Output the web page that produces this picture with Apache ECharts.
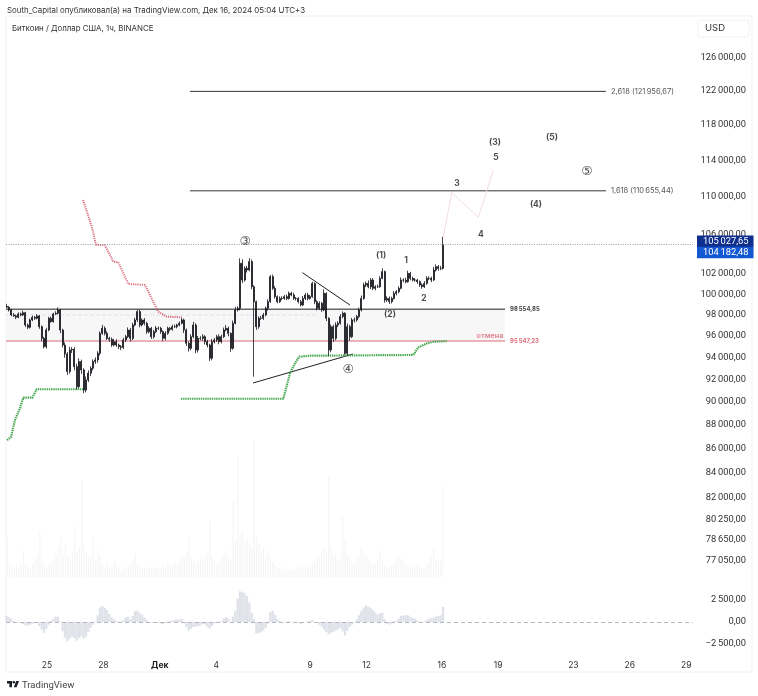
<!DOCTYPE html>
<html><head><meta charset="utf-8">
<style>html,body{margin:0;padding:0;background:#fff}#c{width:758px;height:696px}</style>
<script src="https://cdn.jsdelivr.net/npm/echarts@6/dist/echarts.min.js"></script>
</head><body><div id="c"></div>
<script>
const headerText = 'South_Capital опубликовал(а) на TradingView.com, Дек 16, 2024 05:04 UTC+3';
const symbolText = 'Биткоин / Доллар США, 1ч, BINANCE';

const priceTicks = [126000,122000,118000,114000,110000,106000,102000,100000,98000,96000,94000,92000,90000,88000,86000,84000,82000,80250,78650,77050];
const oscTicks = [2500,0,-2500];
const dateTicks = ['2024-11-25','2024-11-28','2024-12-01','2024-12-04','2024-12-09','2024-12-12','2024-12-16','2024-12-19','2024-12-23','2024-12-26','2024-12-29'];
const dateTickLabels = ['25','28','Дек','4','9','12','16','19','23','26','29'];

const candleStart = '2024-11-22T20:28:00Z';
const candleStepHours = 2.979;
const closes = [
98750,98490,98010,97920,97790,98110,98010,98230,97050,96830,
97530,97790,97690,97920,96890,95790,95020,96580,97690,97370,
98110,98170,98490,96580,95170,94340,92730,94710,94770,93180,
91370,93640,92880,91070,91970,92580,93030,93640,93790,94400,
96260,96740,96260,95790,95700,95170,95480,95170,95020,94950,
95640,95950,96580,95790,97050,97530,98330,97050,97530,97210,
96420,96740,95950,96420,96740,96740,96420,95790,96260,96740,
96640,96890,96890,97050,97210,97530,96580,95330,94860,95950,
97050,94710,95790,95790,95950,95480,95170,93950,95480,95640,
95950,95480,95950,96580,96740,96260,94860,97210,98490,98650,
103090,101410,102580,102410,103260,100750,99290,96890,97690,97690,
98010,98650,99290,101750,100590,99780,99290,99610,99610,99780,
99610,100100,99940,99610,99610,99290,98970,99610,99940,99610,
99780,101080,99290,98650,99130,98490,100100,97690,94710,96890,
95790,97050,97210,97850,98170,94400,96890,95950,97530,97530,
97850,98490,99610,100920,101080,100750,101410,100590,100750,100750,
101580,102250,99450,99610,99290,99610,100100,100260,100590,101410,
101410,101250,102080,101580,101410,101410,101250,100920,100750,101080,
101580,101580,101410,102410,102750,102580,102580,105027.65];
const wickUp = [
250,120,100,180,120,150,130,200,90,150,
130,160,110,170,90,120,140,200,140,160,
120,200,240,100,120,240,180,300,200,200,
260,300,180,150,320,260,180,200,230,200,
180,320,180,200,150,180,260,220,130,150,
200,160,240,180,220,200,150,200,150,180,
140,200,130,180,220,160,140,120,200,160,
130,180,200,120,170,210,120,140,180,230,
300,160,220,200,240,150,170,120,260,200,
170,220,190,230,300,150,100,260,300,200,
500,400,200,250,350,200,150,100,180,220,
200,160,240,160,200,220,120,190,210,160,
200,180,150,220,130,120,160,240,180,210,
170,160,100,140,200,130,390,100,100,220,
180,260,200,240,180,100,300,180,200,230,
160,220,280,220,190,300,190,200,160,220,
200,330,100,200,180,160,220,170,210,260,
180,240,260,150,170,200,130,120,160,230,
210,200,170,300,220,160,240,770];
const wickDown = [
100,150,120,100,180,90,140,110,200,170,
120,110,150,100,200,260,160,180,120,110,
90,110,120,300,220,350,300,200,280,320,
240,150,350,290,200,180,260,190,210,250,
200,130,190,150,220,170,130,200,240,260,
160,190,140,300,160,120,200,220,130,190,
210,150,210,170,130,150,200,260,180,120,
170,130,110,160,120,110,300,250,300,180,
150,300,240,180,220,260,220,250,190,170,
190,240,160,130,120,270,320,130,100,150,
200,300,150,250,120,250,7020,300,200,150,
160,130,220,120,150,200,160,130,170,140,
180,120,130,150,210,170,140,100,160,190,
130,120,240,210,160,180,120,260,550,220,
330,180,200,130,150,150,200,380,130,240,
170,160,140,130,200,150,240,170,200,120,
100,90,260,180,220,170,120,190,150,90,
220,160,110,200,130,170,220,180,200,120,
140,180,210,100,150,240,190,120];
const volumes = [
120,45,30,25,35,30,40,80,35,28,
25,40,55,60,135,50,40,30,35,45,
50,70,90,120,65,100,60,55,70,150,
75,90,290,95,70,60,55,120,50,80,
60,35,30,40,25,30,45,35,28,22,
25,30,35,40,50,70,40,30,25,28,
22,30,26,24,30,28,25,35,30,40,
35,30,45,40,50,60,55,75,120,60,
45,40,50,55,45,60,70,170,60,50,
40,45,55,65,80,60,50,230,110,360,
130,140,110,120,100,90,410,120,100,70,
85,60,80,55,45,35,30,25,22,25,
30,22,26,20,28,30,26,34,38,30,
36,42,50,55,60,75,85,70,300,90,
60,70,50,55,180,110,70,60,45,40,
55,60,90,70,60,50,45,40,42,55,
80,45,35,30,28,32,40,45,60,55,
50,40,35,30,26,28,35,30,25,28,
35,45,60,90,55,45,50,270];
const oscValues = [
680,530,380,150,0,-40,-110,-230,-380,-380,
-300,-230,-110,-80,-460,-840,-1220,-760,-300,150,
380,610,610,80,-1060,-1750,-2200,-1900,-1670,-1820,
-2130,-1820,-1670,-1900,-1670,-1140,-680,-300,80,760,
1670,1820,1600,1370,910,530,300,150,40,40,
230,530,610,300,680,1220,1290,1060,840,530,
270,0,-110,-110,-40,-110,-150,-230,-110,40,
110,190,230,270,300,340,-40,-530,-990,-760,
-570,-530,-460,-420,-230,-300,-530,-760,-460,-190,
-80,40,110,380,570,380,0,610,1220,2660,
3500,3420,3270,2960,2200,1060,300,-1290,-1290,-1140,
-990,-680,-190,1140,1290,840,380,150,0,-40,
40,110,40,-40,-110,-80,-230,-110,0,40,
80,230,-40,-110,-300,-530,-840,-1140,-1440,-1220,
-1140,-990,-840,-680,-1060,-1520,-990,-570,-300,-40,
300,760,1220,1670,1900,1750,1600,1370,1060,840,
990,1060,300,-230,-300,-150,80,150,380,680,
760,760,760,610,460,380,190,40,-40,80,
190,300,460,530,610,680,760,1710];

const fib2Dates = ['2024-12-02T14:30','2024-12-24T17:30'];
const fib2Prices = [121956.67,121956.67];
const fib1Prices = [110655.44,110655.44];
const zoneDates = ['2024-11-22T19:40','2024-12-19T08:40'];
const zoneTop = [98554.85,98554.85];
const zoneBottom = [95547.23,95547.23];
const midDates = ['2024-11-22T19:40','2024-12-09T07:00'];
const midPrices = [98000,98000];
const trendADates = ['2024-12-08T14:00','2024-12-11T02:50'];
const trendAPrices = [102150,98960];
const trendBDates = ['2024-12-05T23:00','2024-12-11T06:40'];
const trendBPrices = [91700,94340];
const projDates = ['2024-12-16T02:00','2024-12-16T12:40','2024-12-17T22:40','2024-12-18T17:40'];
const projPrices = [105800,110450,107830,112860];

const redDates = ['2024-11-26T22:00','2024-11-27T04:20','2024-11-27T10:20','2024-11-27T14:30','2024-11-28T02:00','2024-11-28T12:40','2024-11-28T19:00','2024-11-29T07:50','2024-11-30T05:00','2024-11-30T22:00','2024-12-01T08:50','2024-12-02T04:00'];
const redPrices = [109670,108070,106500,104980,104920,103240,103190,101020,100930,98320,97840,97790];
const greenADates = ['2024-11-22T21:00','2024-11-23T02:00','2024-11-23T07:10','2024-11-23T13:30','2024-11-23T17:45','2024-11-24T05:15','2024-11-24T10:50','2024-11-26T22:20'];
const greenAPrices = [86720,86990,88450,89480,90390,90390,91140,91140];
const greenBDates = ['2024-12-02T03:00','2024-12-07T13:40','2024-12-07T22:15','2024-12-08T04:35','2024-12-08T10:05','2024-12-08T23:45','2024-12-14T11:35','2024-12-14T18:00','2024-12-15T04:45','2024-12-15T13:10','2024-12-16T06:15'];
const greenBPrices = [90300,90300,92570,93480,94090,94180,94250,94950,95320,95470,95540];

const waveTexts = ['(1)','(2)','(3)','(4)','(5)','1','2','3','4','5'];
const waveDates = ['2024-12-12T18:30','2024-12-13T05:50','2024-12-18T20:00','2024-12-21T00:15','2024-12-21T20:40','2024-12-14T02:20','2024-12-15T01:15','2024-12-16T19:25','2024-12-18T02:00','2024-12-18T21:10'];
const wavePrices = [103920,98090,115960,109240,116640,103420,99650,111510,106080,114370];
const circleTexts = ['③','④','⑤'];
const circleDates = ['2024-12-05T12:50','2024-12-11T00:15','2024-12-23T17:20'];
const circlePrices = [105260,92880,112710];

const ts = s => Date.parse(s.length === 10 ? s + 'T00:00:00Z' : (s.endsWith('Z') ? s : s + ':00Z'));
const pairs = (d, p) => d.map((x, i) => [ts(x), p[i]]);
const grouped = v => { const s = Math.round(Math.abs(v)).toString().replace(/\B(?=(\d{3})+$)/g, '\u2009'); return (v < 0 ? '\u2212' : '') + s + ',00'; };
const candleTimes = closes.map((_, i) => ts(candleStart) + i * candleStepHours * 3600000);
const ohlc = closes.map((c, i) => {
  const o = i ? closes[i - 1] : c + 80;
  return [candleTimes[i], o, c, Math.min(o, c) - wickDown[i], Math.max(o, c) + wickUp[i]];
});
const xMin = ts('2024-11-22T19:40'), xMax = xMin + 687 / 18.8 * 86400000;
const dateTickValues = dateTicks.map(ts);
const FONT = 'Inter, "Liberation Sans", sans-serif';
const AXISFONT = 'Roboto, "Liberation Sans", sans-serif';

const xBase = { min: xMin, max: xMax, axisLine: { show: false }, axisTick: { show: false }, splitLine: { show: false } };
const drawing = (name, data, color, width, extra) => Object.assign({
  name, type: 'line', xAxisIndex: 0, yAxisIndex: 0, data, showSymbol: false, symbol: 'none', silent: true,
  lineStyle: { color, width }, z: 3
}, extra || {});
const endLabel = (text, color, size, weight) => ({ endLabel: { show: true, formatter: text, color, fontSize: size, fontWeight: weight || 'normal', distance: 5, fontFamily: FONT } });
const hiddenDot = { color: 'rgba(0,0,0,0)' };

const option = {
  animation: false,
  backgroundColor: '#fff',
  textStyle: { fontFamily: FONT },
  title: [
    { text: headerText, left: 2, top: 2, textStyle: { fontSize: 7.9, fontWeight: 'normal', color: '#333', fontFamily: FONT } },
    { text: symbolText, left: 7, top: 20, textStyle: { fontSize: 7.9, fontWeight: 'normal', color: '#333', fontFamily: FONT } }
  ],
  graphic: [
    { type: 'rect', z: -10, silent: true, shape: { x: 6, y: 16, width: 746, height: 656 }, style: { fill: 'none', stroke: '#f0f1f4', lineWidth: 1 } },
    { type: 'rect', z: -9, silent: true, shape: { x: 698, y: 20, width: 51, height: 17, r: 3 }, style: { fill: '#fff', stroke: '#f1f2f5', lineWidth: 1 } },
    { type: 'text', z: 5, silent: true, x: 705, y: 23.5, style: { text: 'USD', fontSize: 9.5, fill: '#333', fontFamily: FONT } },
    { type: 'polygon', z: 5, silent: true, shape: { points: [[12,681],[7,681],[7,683.5],[9.4,683.5],[9.4,687.3],[12,687.3]] }, style: { fill: '#1a1d26' } },
    { type: 'polygon', z: 5, silent: true, shape: { points: [[16.6,687.3],[13.8,687.3],[16.2,681],[19,681]] }, style: { fill: '#1a1d26' } },
    { type: 'circle', z: 5, silent: true, shape: { cx: 13.8, cy: 682.3, r: 1.25 }, style: { fill: '#1a1d26' } },
    { type: 'text', z: 5, silent: true, x: 22, y: 680.5, style: { text: 'TradingView', fontSize: 9.5, fill: '#444', fontFamily: AXISFONT } }
  ],
  grid: [
    { left: 6, right: 65, top: 16, height: 584 },
    { left: 6, right: 65, top: 440, height: 137 },
    { left: 6, right: 65, top: 572, height: 100 }
  ],
  xAxis: [
    Object.assign({ type: 'time', gridIndex: 0, axisLabel: { show: false } }, xBase),
    Object.assign({ type: 'time', gridIndex: 1, axisLabel: { show: false } }, xBase),
    Object.assign({ type: 'value', gridIndex: 2, axisLabel: {
      show: true, inside: true, margin: 2, fontSize: 8.5, color: '#333', fontFamily: FONT,
      customValues: dateTickValues, hideOverlap: false,
      rich: { b: { fontWeight: 'bold', fontSize: 8.5, color: '#222', fontFamily: FONT } },
      formatter: v => { const l = dateTickLabels[dateTickValues.indexOf(v)]; return l === 'Дек' ? '{b|Дек}' : l; }
    } }, xBase)
  ],
  yAxis: [
    { type: 'log', gridIndex: 0, position: 'right', min: 74170, max: 131282, logBase: 10,
      axisLine: { show: false }, axisTick: { show: false }, splitLine: { show: false }, minorTick: { show: false }, minorSplitLine: { show: false },
      axisLabel: { show: true, customValues: priceTicks, formatter: grouped, align: 'right', margin: 53, fontSize: 9.3, color: '#333', fontFamily: AXISFONT, hideOverlap: false, showMinLabel: true, showMaxLabel: true } },
    { type: 'value', gridIndex: 1, min: 0, max: 411, show: false },
    { type: 'value', gridIndex: 2, position: 'right', min: -5682, max: 5682,
      axisLine: { show: false }, axisTick: { show: false }, splitLine: { show: false },
      axisLabel: { show: true, customValues: oscTicks, formatter: grouped, align: 'right', margin: 53, fontSize: 9.3, color: '#333', fontFamily: AXISFONT, hideOverlap: false } }
  ],
  series: [
    drawing('Зона', pairs(zoneDates, zoneTop), 'transparent', 0, {
      z: 1,
      markArea: { silent: true, itemStyle: { color: '#f7f7f8' }, data: [[{ coord: [ts(zoneDates[0]), zoneTop[0]] }, { coord: [ts(zoneDates[1]), zoneBottom[0]] }]] }
    }),
    drawing('Середина', pairs(midDates, midPrices), '#e2e2e6', 1, { z: 2, lineStyle: { color: '#e2e2e6', width: 1, type: 'dashed' } }),
    drawing('Верх зоны', pairs(zoneDates, zoneTop), '#666', 1.4, endLabel('98\u2009554,85', '#444', 6, 'bold')),
    drawing('Отмена', pairs(zoneDates, zoneBottom), '#e79aa5', 1.6, endLabel('95\u2009547,23', '#e0707f', 6, 'bold')),
    drawing('Фибо 2,618', pairs(fib2Dates, fib2Prices), '#333', 1, endLabel('2,618 (121\u2009956,67)', '#555', 7.5)),
    drawing('Фибо 1,618', pairs(fib2Dates, fib1Prices), '#333', 1, endLabel('1,618 (110\u2009655,44)', '#555', 7.5)),
    drawing('Тренд A', pairs(trendADates, trendAPrices), '#222', 1),
    drawing('Тренд B', pairs(trendBDates, trendBPrices), '#222', 1),
    drawing('Прогноз', pairs(projDates, projPrices), '#f6dde0', 1),
    drawing('Красная', pairs(redDates, redPrices), '#dd6f7f', 2, { lineStyle: { color: '#dd6f7f', width: 2, type: [1.2, 1] } }),
    drawing('Зелёная A', pairs(greenADates, greenAPrices), '#46a84f', 2.2, { lineStyle: { color: '#46a84f', width: 2.2, type: [1.4, 0.8] } }),
    drawing('Зелёная B', pairs(greenBDates, greenBPrices), '#46a84f', 2.2, { lineStyle: { color: '#46a84f', width: 2.2, type: [1.4, 0.8] } }),
    {
      name: 'BTCUSD', type: 'candlestick', xAxisIndex: 0, yAxisIndex: 0, data: ohlc, barWidth: 1.5, silent: true, z: 4,
      itemStyle: { color: '#15171c', color0: '#15171c', borderColor: '#15171c', borderColor0: '#15171c', borderWidth: 0.8 },
      markLine: {
        silent: true, symbol: 'none', animation: false,
        data: [
          { yAxis: 105027.65, lineStyle: { color: '#9a9ca3', type: [1, 1.4], width: 1 },
            label: { show: true, position: 'end', distance: 4, offset: [0, -3], formatter: '105\u2009027,65', color: '#fff', backgroundColor: '#0f2f8e', fontSize: 9.3, lineHeight: 11.5, padding: [0, 5, 0, 6], fontFamily: AXISFONT } },
          { yAxis: 104182.48, lineStyle: { color: 'rgba(0,0,0,0)', width: 0 },
            label: { show: true, position: 'end', distance: 4, formatter: '104\u2009182,48', color: '#fff', backgroundColor: '#1457d2', fontSize: 9.3, lineHeight: 11.5, padding: [0, 5, 0, 6], fontFamily: AXISFONT } }
        ]
      }
    },
    {
      name: 'Волны', type: 'scatter', xAxisIndex: 0, yAxisIndex: 0, symbolSize: 1, itemStyle: hiddenDot, silent: true, z: 6,
      data: waveTexts.map((t, i) => [ts(waveDates[i]), wavePrices[i], t]),
      label: { show: true, position: 'inside', formatter: p => p.value[2], fontSize: 8.5, fontWeight: 'bold', color: '#1e1e22', fontFamily: FONT }
    },
    {
      name: 'Круги', type: 'scatter', xAxisIndex: 0, yAxisIndex: 0, symbolSize: 1, itemStyle: hiddenDot, silent: true, z: 6,
      data: circleTexts.map((t, i) => [ts(circleDates[i]), circlePrices[i], t]),
      label: { show: true, position: 'inside', formatter: p => p.value[2], fontSize: 12.5, color: '#111', fontFamily: '"DejaVu Sans", sans-serif' }
    },
    {
      name: 'отмена', type: 'scatter', xAxisIndex: 0, yAxisIndex: 0, symbolSize: 1, itemStyle: hiddenDot, silent: true, z: 6,
      data: [[ts('2024-12-18T13:30'), 96010, 'отмена']],
      label: { show: true, position: 'inside', formatter: p => p.value[2], fontSize: 7.2, fontWeight: 'bold', color: '#e0707f', fontFamily: FONT }
    },
    { name: 'Объём', type: 'bar', xAxisIndex: 1, yAxisIndex: 1, barWidth: 1.2, silent: true,
      data: volumes.map((v, i) => [candleTimes[i], v]), itemStyle: { color: '#f5f5f8' } },
    { name: 'Осциллятор', type: 'bar', xAxisIndex: 2, yAxisIndex: 2, barWidth: 2.33, silent: true,
      data: oscValues.map((v, i) => [candleTimes[i], v]), itemStyle: { color: '#e0e2ea' },
      markLine: { silent: true, symbol: 'none', animation: false, label: { show: false },
        lineStyle: { color: '#b6b8c0', type: [4, 3], width: 1 }, data: [{ yAxis: 0 }] } }
  ]
};
const chart = echarts.init(document.getElementById('c'), null, { renderer: 'canvas' });
chart.setOption(option);
</script></body></html>
